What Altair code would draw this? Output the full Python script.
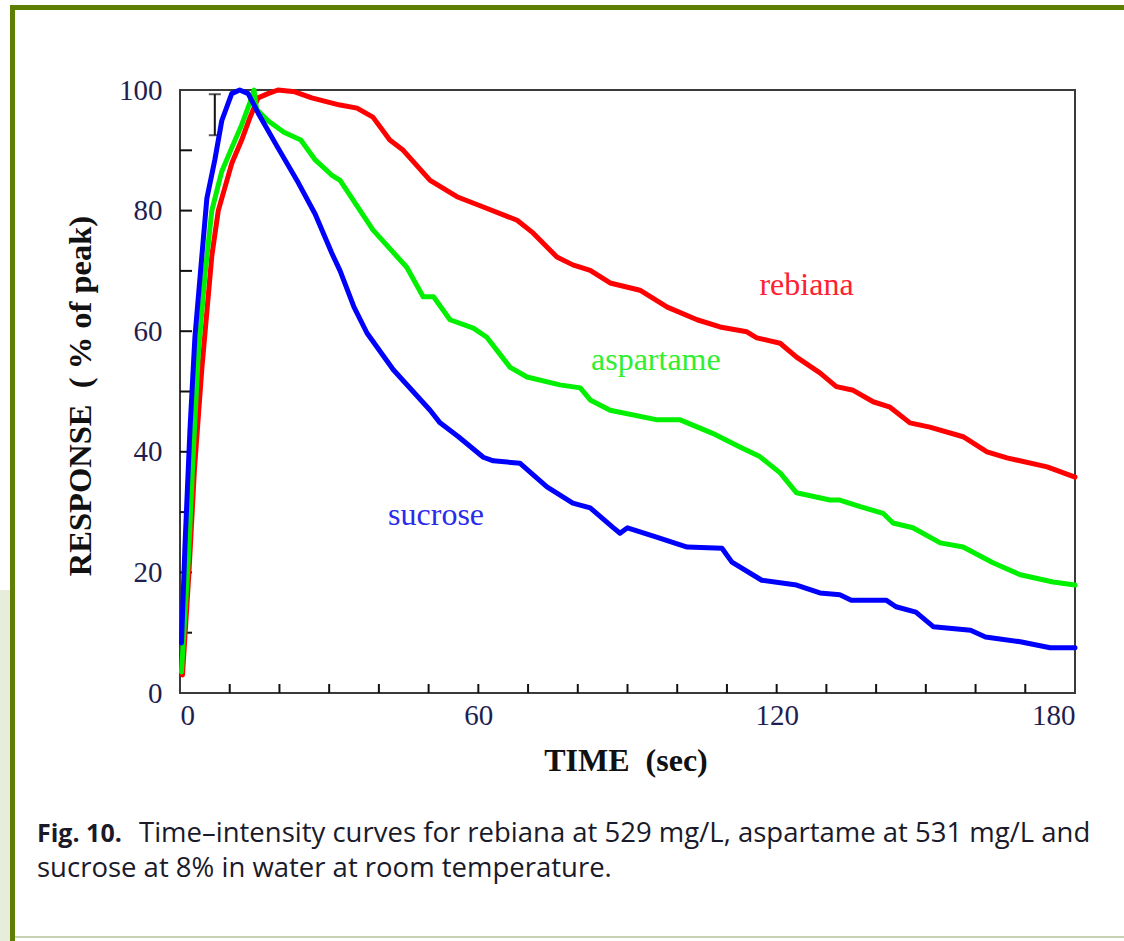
import altair as alt
import pandas as pd

# ---- data ----
rebiana_t = [0.5, 1.8, 2.9, 4.4, 6.4, 7.7, 10.4, 12.4, 14.1, 15.7, 17.7, 19.7, 23.1, 26.5, 29.8, 32.2,
             35.6, 38.8, 42.2, 44.9, 50.3, 55.7, 61.0, 67.8, 71.0, 75.8, 79.0, 82.5, 86.5, 92.5, 98.0,
             104.0, 108.6, 114.0, 116.0, 120.7, 124.0, 128.7, 132.0, 135.4, 139.4, 142.8, 146.8, 150.8,
             157.5, 162.3, 166.3, 174.4, 180.0]
rebiana_v = [3.0, 20.0, 37.0, 53.9, 72.5, 80.0, 87.8, 91.7, 95.5, 98.7, 99.4, 100.0, 99.7, 98.7, 98.0, 97.5,
             97.0, 95.5, 91.7, 90.0, 85.0, 82.3, 80.6, 78.4, 76.3, 72.3, 71.0, 70.1, 68.0, 66.8, 64.0,
             61.9, 60.7, 59.9, 58.9, 58.0, 55.7, 53.1, 50.8, 50.2, 48.3, 47.4, 44.8, 44.1,
             42.5, 40.0, 39.0, 37.5, 35.8]

aspartame_t = [0.3, 1.7, 2.7, 3.7, 5.0, 6.4, 8.4, 10.4, 12.4, 14.1, 14.9, 15.4, 17.7, 20.9, 24.3, 27.2,
               30.5, 32.2, 38.8, 45.6, 48.9, 51.0, 54.3, 59.0, 61.7, 66.4, 69.8, 76.4, 80.5, 82.5, 86.5,
               96.0, 100.6, 107.0, 112.6, 116.6, 120.7, 124.0, 130.7, 132.7, 136.8, 141.4, 143.4, 147.4,
               152.9, 157.5, 163.5, 169.0, 175.6, 180.0]
aspartame_v = [3.5, 22.5, 40.5, 56.5, 69.2, 80.0, 86.5, 90.4, 94.2, 98.0, 100.0, 96.8, 94.9, 93.0, 91.7, 88.4,
               85.9, 85.0, 76.8, 70.6, 65.7, 65.7, 61.9, 60.5, 59.0, 54.0, 52.4, 51.1, 50.6, 48.6, 46.9,
               45.3, 45.3, 43.1, 40.8, 39.2, 36.5, 33.2, 32.0, 32.0, 30.9, 29.8, 28.2, 27.4,
               24.9, 24.2, 21.6, 19.6, 18.4, 17.9]

sucrose_t = [0.3, 1.0, 2.0, 3.0, 4.4, 5.4, 7.0, 8.4, 10.4, 12.0, 13.7, 15.7, 19.7, 23.8, 27.2, 30.5, 32.2,
             35.0, 37.6, 42.9, 50.3, 52.3, 56.0, 61.0, 63.0, 68.4, 73.8, 79.0, 82.5, 87.0, 88.5, 90.0, 96.0,
             102.0, 109.0, 111.0, 117.0, 124.0, 128.7, 132.7, 135.0, 142.0, 144.0, 148.0, 151.5, 159.0,
             162.0, 169.0, 175.0, 180.0]
sucrose_v = [8.3, 24.4, 43.6, 59.0, 72.5, 82.0, 88.4, 94.9, 99.4, 100.0, 99.4, 96.2, 90.4, 84.6, 79.4, 73.0, 70.0,
             64.0, 59.7, 53.6, 46.9, 44.8, 42.5, 39.1, 38.5, 38.1, 34.2, 31.5, 30.7, 27.5, 26.5, 27.4, 25.8,
             24.2, 24.0, 21.7, 18.7, 17.9, 16.6, 16.3, 15.4, 15.4, 14.3, 13.4, 11.0, 10.4,
             9.3, 8.5, 7.5, 7.5]

series_names = ["rebiana", "aspartame", "sucrose"]
series_colors = ["#ff0000", "#00f000", "#0000ff"]
label_colors = ["#ff2030", "#30ee30", "#2a2aee"]
label_t = [126.0, 95.7, 51.5]
label_v = [67.7, 55.2, 29.5]

x_label_values = [0, 60, 120, 180]
y_label_values = [0, 20, 40, 60, 80, 100]
x_tick_values = [10, 20, 30, 40, 50, 60, 70, 80, 90, 100, 110, 120, 130, 140, 150, 160, 170]
y_tick_values = [10, 20, 30, 40, 50, 60, 70, 80, 90]

errbar_t = [7.0]
errbar_low = [92.5]
errbar_high = [99.3]

caption_bold = "Fig. 10."
caption_line1 = "Time\u2013intensity curves for rebiana at 529 mg/L, aspartame at 531 mg/L and"
caption_line2 = "sucrose at 8% in water at room temperature."

# ---- chart ----
W, H = 895, 603
SERIF = "Liberation Serif"
SANS = "Open Sans"

X = alt.X("t:Q", scale=alt.Scale(domain=[0, 180], nice=False, zero=False),
          axis=alt.Axis(values=x_label_values, ticks=False, domain=False, grid=False,
                        labelFont=SERIF, labelFontSize=29, labelColor="#1e1e50", labelPadding=8,
                        title="TIME\u00a0\u00a0(sec)", titleFont=SERIF, titleFontSize=32,
                        titleFontWeight="bold", titleColor="#111111", titleX=W / 2 - 2, titleY=77,
                        titleBaseline="alphabetic", titleAlign="center"))
Y = alt.Y("v:Q", scale=alt.Scale(domain=[0, 100], nice=False),
          axis=alt.Axis(values=y_label_values, ticks=False, domain=False, grid=False,
                        labelFont=SERIF, labelFontSize=29, labelColor="#1e1e50", labelPadding=18,
                        title="RESPONSE\u00a0\u00a0(\u00a0% of peak)", titleFont=SERIF, titleFontSize=32.5,
                        titleFontWeight="bold", titleColor="#111111", titleX=-90, titleY=H / 2 + 4,
                        titleAngle=270, titleBaseline="alphabetic", titleAlign="center"))

one = pd.DataFrame({"a": [0]})
layers = []

# decorative frame of the slide
layers.append(alt.Chart(one).mark_rect(color="#e6eddb").encode(
    x=alt.value(-180), x2=alt.value(-170), y=alt.value(500), y2=alt.value(851)))
layers.append(alt.Chart(one).mark_rect(color="#5c7f04").encode(
    x=alt.value(-170), x2=alt.value(-165), y=alt.value(-85), y2=alt.value(851)))
layers.append(alt.Chart(one).mark_rect(color="#5c7f04").encode(
    x=alt.value(-170), x2=alt.value(944), y=alt.value(-85), y2=alt.value(-80)))
layers.append(alt.Chart(one).mark_rect(color="#c9d2b4").encode(
    x=alt.value(-165), x2=alt.value(944), y=alt.value(846), y2=alt.value(848)))

# inward ticks
layers.append(alt.Chart(pd.DataFrame({"t": x_tick_values})).mark_rule(color="#111", strokeWidth=2).encode(
    x=X, y=alt.value(H), y2=alt.value(H - 9)))
layers.append(alt.Chart(pd.DataFrame({"v": y_tick_values})).mark_rule(color="#111", strokeWidth=2).encode(
    y=Y, x=alt.value(0), x2=alt.value(12)))

# error bar
eb = pd.DataFrame({"t": errbar_t, "v": errbar_low, "v2": errbar_high})
layers.append(alt.Chart(eb).mark_rule(color="#111", strokeWidth=2).encode(x=X, y=Y, y2="v2:Q"))
layers.append(alt.Chart(eb).mark_tick(color="#111", orient="horizontal", size=12, thickness=2).encode(x=X, y=Y))
layers.append(alt.Chart(eb).mark_tick(color="#111", orient="horizontal", size=12, thickness=2).encode(
    x=X, y=alt.Y("v2:Q", scale=alt.Scale(domain=[0, 100], nice=False))))

# curves
for name, ts, vs, col in [("rebiana", rebiana_t, rebiana_v, series_colors[0]),
                          ("aspartame", aspartame_t, aspartame_v, series_colors[1]),
                          ("sucrose", sucrose_t, sucrose_v, series_colors[2])]:
    df = pd.DataFrame({"t": ts, "v": vs})
    layers.append(alt.Chart(df).mark_line(color=col, strokeWidth=5, strokeJoin="round",
                                          strokeCap="round").encode(x=X, y=Y))

# curve labels
lab = pd.DataFrame({"t": label_t, "v": label_v, "name": series_names})
layers.append(alt.Chart(lab).mark_text(font=SERIF, fontSize=32, align="center", baseline="middle").encode(
    x=X, y=Y, text="name:N",
    color=alt.Color("name:N", scale=alt.Scale(domain=series_names, range=label_colors), legend=None)))

# caption
layers.append(alt.Chart(one).mark_text(text=caption_bold, font=SANS, fontSize=25, fontWeight="bold",
                                       color="#1a1a2a", align="left", baseline="alphabetic").encode(
    x=alt.value(-143), y=alt.value(752)))
layers.append(alt.Chart(one).mark_text(text=caption_line1, font=SANS, fontSize=27.5,
                                       color="#1a1a2a", align="left", baseline="alphabetic").encode(
    x=alt.value(-41), y=alt.value(752)))
layers.append(alt.Chart(one).mark_text(text=caption_line2, font=SANS, fontSize=27.5,
                                       color="#1a1a2a", align="left", baseline="alphabetic").encode(
    x=alt.value(-143), y=alt.value(787)))

chart = alt.layer(*layers).properties(
    width=W, height=H,
    autosize=alt.AutoSizeParams(type="none"),
    padding={"left": 180, "top": 90, "right": 49, "bottom": 248},
    background="white",
).configure_view(stroke="#3a3a3a", strokeWidth=2)

chart.save("out.html", embed_options={"renderer": "svg", "actions": False})
